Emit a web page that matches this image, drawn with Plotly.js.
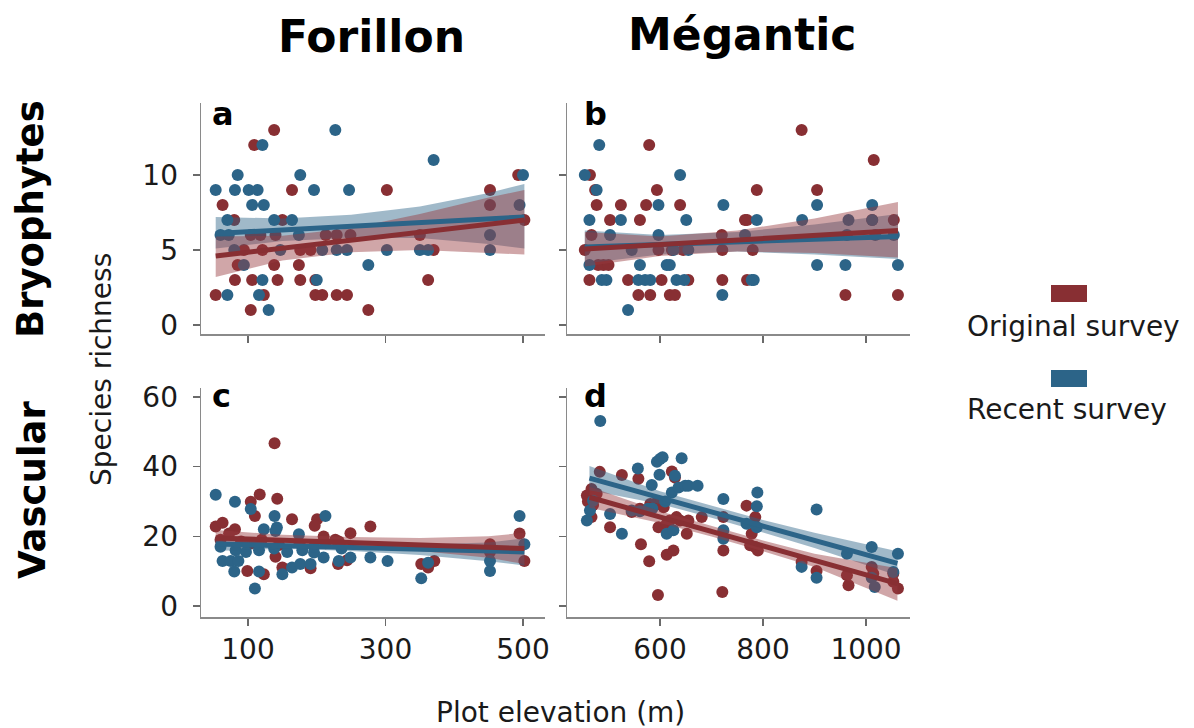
<!DOCTYPE html>
<html>
<head>
<meta charset="utf-8">
<script src="https://cdn.plot.ly/plotly-3.0.1.min.js"></script>
<style>html,body{margin:0;padding:0;background:#fff;}#chart{width:1194px;height:728px;}</style>
</head>
<body>
<div id="chart"></div>
<script>
// ---------- Panel a : Forillon, Bryophytes ----------
const aRedX = [138,109,164,302,452,452,493,63,80,150,502,104,118,140,213,229,249,350,94,121,176,191,370,85,138,174,81,106,143,176,198,362,53,123,198,208,229,244,104,275];
const aRedY = [13,12,9,9,9,8,10,8,7,7,7,6,6,6,6,6,6,6,5,5,5,5,5,4,4,4,3,3,3,3,3,3,2,2,2,2,2,2,1,1];
const aBlueX = [227,121,370,85,176,500,53,81,101,114,196,247,106,123,495,70,138,164,60,72,174,452,80,147,208,229,244,302,350,362,452,94,275,121,200,70,116,130];
const aBlueY = [13,12,11,10,10,10,9,9,9,9,9,9,8,8,8,7,7,7,6,6,6,6,5,5,5,5,5,5,5,5,5,4,4,3,3,2,2,1];
const aLineX = [53,502];
const aRedLine = [4.6,7.0];
const aBlueLine = [6.1,7.2];
const aBandX = [53,150,250,350,450,502];
const aRedLo = [3.2,4.3,4.85,5.0,4.8,4.7];
const aRedHi = [5.9,5.95,6.45,7.4,8.5,9.0];
const aBlueLo = [5.1,5.6,5.8,5.8,5.4,5.1];
const aBlueHi = [7.2,7.1,7.35,7.9,8.8,9.4];

// ---------- Panel b : Mégantic, Bryophytes ----------
const bRedX = [875,579,1015,464,474,594,788,905,477,524,573,639,503,561,765,769,1012,1054,467,720,454,597,623,645,721,780,480,490,500,463,538,603,655,721,769,558,581,619,629,960,1062];
const bRedY = [13,12,11,10,9,9,9,9,8,8,8,8,7,7,7,7,7,7,6,6,5,5,5,5,5,5,4,4,4,3,3,3,3,3,3,2,2,2,2,2,2];
const bBlueX = [482,454,639,477,597,723,905,1012,463,524,651,788,876,966,1012,503,597,765,963,1018,1054,545,626,655,463,561,613,619,905,960,1062,487,496,558,571,581,632,647,778,782,721,538];
const bBlueY = [12,10,10,9,8,8,8,8,7,7,7,7,7,7,7,6,6,6,6,6,6,5,5,5,4,4,4,4,4,4,4,3,3,3,3,3,3,3,3,3,2,1];
const bLineX = [454,1062];
const bRedLine = [5.06,6.3];
const bBlueLine = [5.2,5.9];
const bBandX = [454,600,750,900,1062];
const bRedLo = [3.9,4.6,4.9,4.8,4.5];
const bRedHi = [6.2,5.9,6.3,7.1,8.2];
const bBlueLo = [4.1,4.7,4.9,4.7,4.4];
const bBlueHi = [6.3,6.0,6.2,6.7,7.4];

// ---------- Panel c : Forillon, Vascular ----------
const cRedX = [138.6,117,104,142.5,110,164,200.5,197,278,249,53,63,81,72.5,210,227,452,495,502,352,362,371,140,99,123,150,191,231,244,60,90,105,120,145,175,213,232,452];
const cRedY = [46.7,32,29.9,30.8,25.8,24.9,24.9,23,22.8,20.9,22.8,23.9,22,20.8,19.9,19,17.7,20.8,12.9,12,11,12.9,14.1,10,9.1,11,10.8,12,13.1,19,18.5,18,19,17.5,18,18,18.5,15.5];
const cBlueX = [53,81,104,138.6,212.6,495,123,142,140,174,502,63,75,86,80,116,110,150,164,176,191,196,210,232,249,278,303,352,362,452,452,60,82,97,116,138,157,179,196,236];
const cBlueY = [31.9,29.9,27.8,25.8,25.8,25.8,22,22.5,21.5,20.6,17.7,12.9,12.9,12.9,9.9,9.9,5,9.1,11,12,12,15.3,13.9,12.9,13.9,13.9,12.9,7.9,12.4,12.9,10,17,16,15.5,16,16.5,15.5,16,17,16.5];
const cLineX = [53,502];
const cRedLine = [19.5,16.5];
const cBlueLine = [17.8,15.5];
const cBandX = [53,150,250,350,450,502];
const cRedLo = [17.2,17.9,17.0,15.8,13.8,12.0];
const cRedHi = [21.8,20.4,19.8,19.5,20.0,21.0];
const cBlueLo = [15.8,16.4,15.8,14.6,12.8,11.6];
const cBlueHi = [19.8,18.4,17.6,17.6,18.2,19.4];

// ---------- Panel d : Mégantic, Vascular ----------
const dRedX = [483,526,558,623,629,467,458,477,467,503,563,579,613,626,596,721,652,594,600,607,581,597,613,619,632,639,655,681,723,723,768,785,778,775,785,790,875,904,963,966,1011,1014,1053,1053,1062,561,545,460,470];
const dRedY = [38.5,37.6,36.5,38.6,36.9,33.6,31.7,32.2,25.5,22.6,17.7,12.8,14.7,15.9,3.1,4,20.7,29.8,29.3,28.3,29.3,22.6,23.6,24.5,25.5,24.5,24.5,25.5,25.5,15.9,28.8,25.5,20.7,17.4,16.9,15.9,12.6,10,8.8,5.9,11.2,9.3,9.3,6.9,5,27.9,27,30,29];
const dBlueX = [484,557,594,600,605,642,599,629,584,623,636,649,655,673,723,789,788,904,1011,1062,963,458,464,503,526,613,626,723,768,788,875,904,1011,1017,1053,545,561,577,470,723,610,585];
const dBlueY = [53.1,39.5,41.4,42.2,42.7,42.4,37.7,37.4,34.7,32.6,34,34.5,34.5,34.5,30.7,32.6,28.6,27.7,16.9,15,15,24.5,27.4,26.4,20.7,20.7,21.7,19.3,23.6,22.6,11.2,8.1,8.1,5.4,9.7,27.4,27.2,27.9,30.2,21.7,30,28];
const dLineX = [463,1061];
const dRedLine = [31.2,6.4];
const dBlueLine = [36.7,12.2];
const dBandX = [463,600,700,800,900,1061];
const dRedLo = [28.2,23.8,19.9,15.7,11.2,1.5];
const dRedHi = [34.2,27.2,22.9,18.8,15.0,10.8];
const dBlueLo = [33.2,29.3,25.3,21.1,16.6,8.7];
const dBlueHi = [40.2,32.9,28.7,24.7,21.0,15.7];

// ---------- Tick labels / names ----------
const xTicksForillon = [100,300,500];
const xTicksMegantic = [600,800,1000];
const yTicksBryo = [0,5,10];
const yTicksVasc = [0,20,40,60];
const seriesNames = ['Original survey','Recent survey'];
const colTitles = ['Forillon','Mégantic'];
const rowTitles = ['Bryophytes','Vascular'];
const panelLetters = ['a','b','c','d'];

const RED = '#882F33';
const BLUE = '#2C6488';
const RED_FILL = 'rgba(150,58,62,0.45)';
const BLUE_FILL = 'rgba(44,100,136,0.45)';

function band(xs, lo, hi) {
  return {x: xs.concat(xs.slice().reverse()), y: lo.concat(hi.slice().reverse())};
}

function panel(xa, ya, p) {
  const tr = [];
  tr.push({type:'scatter', mode:'markers', x:p.rx, y:p.ry, xaxis:xa, yaxis:ya,
    marker:{color:RED, size:12, line:{width:0}}, showlegend:false, hoverinfo:'skip'});
  tr.push({type:'scatter', mode:'markers', x:p.bx, y:p.by, xaxis:xa, yaxis:ya,
    marker:{color:BLUE, size:12, line:{width:0}}, showlegend:false, hoverinfo:'skip'});
  const bb = band(p.bandX, p.blo, p.bhi);
  tr.push({type:'scatter', mode:'lines', x:bb.x, y:bb.y, fill:'toself', fillcolor:BLUE_FILL,
    line:{width:0, color:'rgba(0,0,0,0)'}, xaxis:xa, yaxis:ya, showlegend:false, hoverinfo:'skip'});
  const rb = band(p.bandX, p.rlo, p.rhi);
  tr.push({type:'scatter', mode:'lines', x:rb.x, y:rb.y, fill:'toself', fillcolor:RED_FILL,
    line:{width:0, color:'rgba(0,0,0,0)'}, xaxis:xa, yaxis:ya, showlegend:false, hoverinfo:'skip'});
  tr.push({type:'scatter', mode:'lines', x:p.lx, y:p.bl, xaxis:xa, yaxis:ya,
    line:{color:BLUE, width:5}, showlegend:false, hoverinfo:'skip'});
  tr.push({type:'scatter', mode:'lines', x:p.lx, y:p.rl, xaxis:xa, yaxis:ya,
    line:{color:RED, width:5}, showlegend:false, hoverinfo:'skip'});
  return tr;
}

const data = [].concat(
  panel('x','y',{rx:aRedX,ry:aRedY,bx:aBlueX,by:aBlueY,lx:aLineX,rl:aRedLine,bl:aBlueLine,bandX:aBandX,rlo:aRedLo,rhi:aRedHi,blo:aBlueLo,bhi:aBlueHi}),
  panel('x2','y2',{rx:bRedX,ry:bRedY,bx:bBlueX,by:bBlueY,lx:bLineX,rl:bRedLine,bl:bBlueLine,bandX:bBandX,rlo:bRedLo,rhi:bRedHi,blo:bBlueLo,bhi:bBlueHi}),
  panel('x3','y3',{rx:cRedX,ry:cRedY,bx:cBlueX,by:cBlueY,lx:cLineX,rl:cRedLine,bl:cBlueLine,bandX:cBandX,rlo:cRedLo,rhi:cRedHi,blo:cBlueLo,bhi:cBlueHi}),
  panel('x4','y4',{rx:dRedX,ry:dRedY,bx:dBlueX,by:dBlueY,lx:dLineX,rl:dRedLine,bl:dBlueLine,bandX:dBandX,rlo:dRedLo,rhi:dRedHi,blo:dBlueLo,bhi:dBlueHi})
);

const W = 1194, H = 728;
const px = v => v / W;
const py = v => 1 - v / H;
const FONT = 'DejaVu Sans, Verdana, sans-serif';

const axBase = {
  showline:true, linecolor:'#8a8a8a', linewidth:1.5, mirror:false,
  ticks:'outside', ticklen:7, tickwidth:1.5, tickcolor:'#6a6a6a',
  showgrid:false, zeroline:false, fixedrange:true,
  tickfont:{family:FONT, size:28, color:'#1a1a1a'}
};

const domXL = [px(201), px(545)];
const domXR = [px(567), px(910)];
const domYT = [py(334), py(103)];
const domYB = [py(617), py(388)];
const padLabel = v => String(v) + '\u00a0';

const layout = {
  width:W, height:H,
  margin:{l:0,r:0,t:0,b:0},
  paper_bgcolor:'#ffffff', plot_bgcolor:'#ffffff',
  showlegend:false,
  xaxis: Object.assign({}, axBase, {domain:domXL, range:[31.6,532], anchor:'y', tickvals:xTicksForillon, showticklabels:false}),
  yaxis: Object.assign({}, axBase, {domain:domYT, range:[-0.6,14.8], anchor:'x', tickmode:'array', tickvals:yTicksBryo, ticktext:yTicksBryo.map(padLabel)}),
  xaxis2: Object.assign({}, axBase, {domain:domXR, range:[419.4,1085.4], anchor:'y2', tickvals:xTicksMegantic, showticklabels:false}),
  yaxis2: Object.assign({}, axBase, {domain:domYT, range:[-0.6,14.8], anchor:'x2', tickvals:yTicksBryo, showticklabels:false}),
  xaxis3: Object.assign({}, axBase, {domain:domXL, range:[31.6,532], anchor:'y3', tickvals:xTicksForillon}),
  yaxis3: Object.assign({}, axBase, {domain:domYB, range:[-3.2,62.6], anchor:'x3', tickmode:'array', tickvals:yTicksVasc, ticktext:yTicksVasc.map(padLabel)}),
  xaxis4: Object.assign({}, axBase, {domain:domXR, range:[419.4,1085.4], anchor:'y4', tickvals:xTicksMegantic}),
  yaxis4: Object.assign({}, axBase, {domain:domYB, range:[-3.2,62.6], anchor:'x4', tickvals:yTicksVasc, showticklabels:false}),
  annotations: [
    {text:colTitles[0], x:px(371), y:py(36), xref:'paper', yref:'paper', showarrow:false, xanchor:'center', yanchor:'middle',
      font:{family:FONT, size:44, color:'#000', weight:'bold'}},
    {text:colTitles[1], x:px(742), y:py(34), xref:'paper', yref:'paper', showarrow:false, xanchor:'center', yanchor:'middle',
      font:{family:FONT, size:44, color:'#000', weight:'bold'}},
    {text:rowTitles[0], x:px(30), y:py(219), xref:'paper', yref:'paper', showarrow:false, textangle:-90, xanchor:'center', yanchor:'middle',
      font:{family:FONT, size:37, color:'#000', weight:'bold'}},
    {text:rowTitles[1], x:px(32), y:py(490), xref:'paper', yref:'paper', showarrow:false, textangle:-90, xanchor:'center', yanchor:'middle',
      font:{family:FONT, size:37, color:'#000', weight:'bold'}},
    {text:'Species richness', x:px(101), y:py(370), xref:'paper', yref:'paper', showarrow:false, textangle:-90, xanchor:'center', yanchor:'middle',
      font:{family:FONT, size:28, color:'#1a1a1a'}},
    {text:'Plot elevation (m)', x:px(560), y:py(712), xref:'paper', yref:'paper', showarrow:false, xanchor:'center', yanchor:'middle',
      font:{family:FONT, size:28, color:'#1a1a1a'}},
    {text:panelLetters[0], x:px(210), y:py(114), xref:'paper', yref:'paper', showarrow:false, xanchor:'left', yanchor:'middle',
      font:{family:FONT, size:32, color:'#000', weight:'bold'}},
    {text:panelLetters[1], x:px(582), y:py(114), xref:'paper', yref:'paper', showarrow:false, xanchor:'left', yanchor:'middle',
      font:{family:FONT, size:32, color:'#000', weight:'bold'}},
    {text:panelLetters[2], x:px(210), y:py(396), xref:'paper', yref:'paper', showarrow:false, xanchor:'left', yanchor:'middle',
      font:{family:FONT, size:32, color:'#000', weight:'bold'}},
    {text:panelLetters[3], x:px(582), y:py(396), xref:'paper', yref:'paper', showarrow:false, xanchor:'left', yanchor:'middle',
      font:{family:FONT, size:32, color:'#000', weight:'bold'}},
    {text:seriesNames[0], x:px(965), y:py(326), xref:'paper', yref:'paper', showarrow:false, xanchor:'left', yanchor:'middle',
      font:{family:FONT, size:28, color:'#1a1a1a'}},
    {text:seriesNames[1], x:px(965), y:py(409), xref:'paper', yref:'paper', showarrow:false, xanchor:'left', yanchor:'middle',
      font:{family:FONT, size:28, color:'#1a1a1a'}}
  ],
  shapes: [
    {type:'rect', xref:'paper', yref:'paper', x0:px(1051), x1:px(1087), y0:py(302), y1:py(285), fillcolor:RED, line:{width:0}},
    {type:'rect', xref:'paper', yref:'paper', x0:px(1051), x1:px(1087), y0:py(387), y1:py(370), fillcolor:BLUE, line:{width:0}}
  ]
};

Plotly.newPlot('chart', data, layout, {displayModeBar:false, staticPlot:true});
</script>
</body>
</html>
